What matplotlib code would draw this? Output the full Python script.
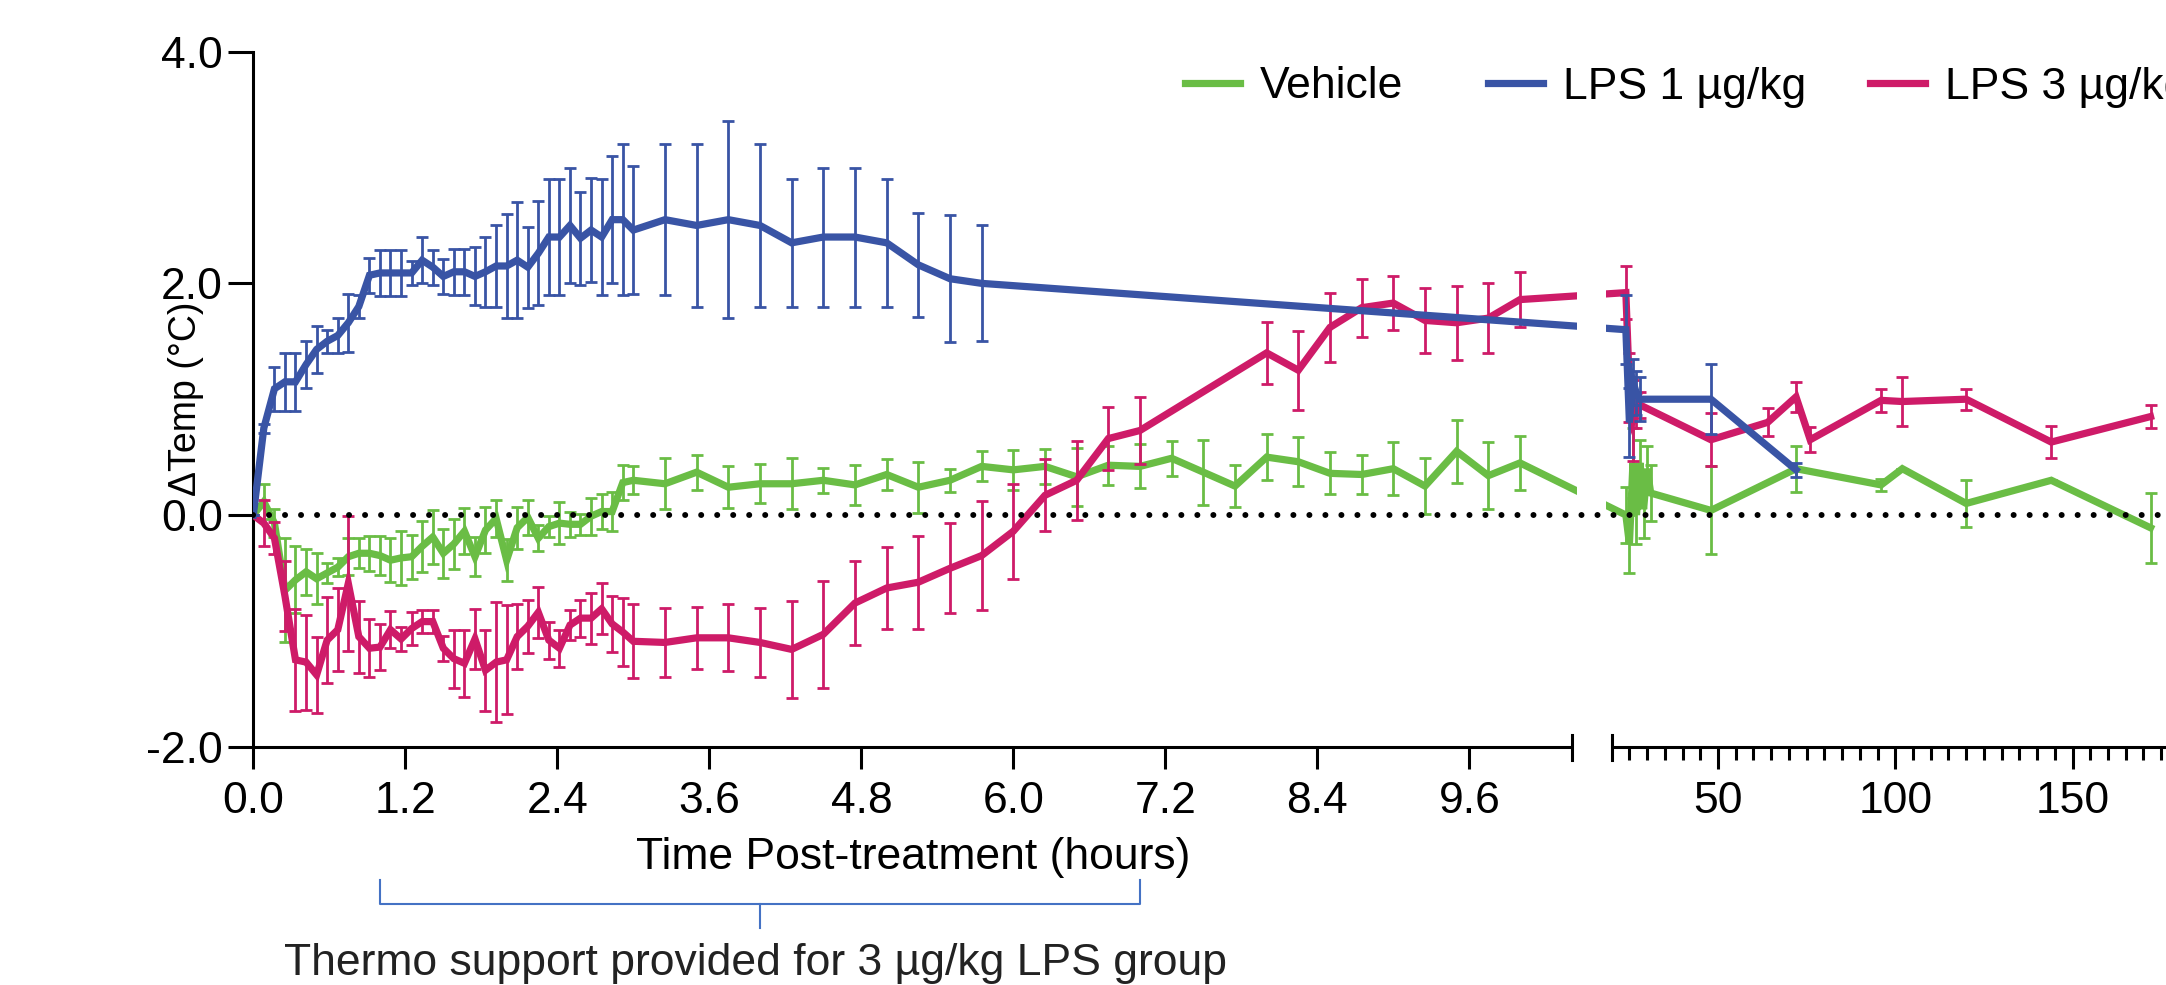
import numpy as np
import matplotlib
matplotlib.use("Agg")
import matplotlib.pyplot as plt
from matplotlib.lines import Line2D
import matplotlib.transforms as mtransforms

plt.rcParams['font.family'] = ['Liberation Sans', 'DejaVu Sans']
plt.rcParams['axes.unicode_minus'] = False

# ---------------- data (hours, delta temp in degC, SEM) ----------------
t_early = [0, 0.083, 0.167, 0.25, 0.333, 0.417, 0.5, 0.583, 0.667, 0.75, 0.833, 0.917,
           1.0, 1.083, 1.167, 1.25, 1.333, 1.417, 1.5, 1.583, 1.667, 1.75, 1.833, 1.917,
           2.0, 2.083, 2.167, 2.25, 2.333, 2.417, 2.5, 2.583, 2.667, 2.75, 2.833, 2.917, 3.0]

vehicle_t = t_early + [3.25, 3.5, 3.75, 4.0, 4.25, 4.5, 4.75, 5.0, 5.25, 5.5, 5.75, 6.0,
                       6.25, 6.5, 6.75, 7.0, 7.25, 7.5, 7.75, 8.0, 8.25, 8.5, 8.75, 9.0,
                       9.25, 9.5, 9.75, 10.0,
                       24, 25, 26, 27, 28, 29, 30, 31, 48, 72, 96, 102, 120, 144, 172]
vehicle_y = [0.0, 0.115, -0.07, -0.65, -0.56, -0.49, -0.55, -0.50, -0.45, -0.36, -0.33, -0.33,
             -0.35, -0.39, -0.37, -0.36, -0.27, -0.19, -0.33, -0.25, -0.14, -0.36, -0.13, -0.03,
             -0.39, -0.11, -0.02, -0.20, -0.10, -0.07, -0.08, -0.08, -0.01, 0.03, 0.03, 0.28, 0.30,
             0.27, 0.37, 0.24, 0.27, 0.27, 0.30, 0.26, 0.35, 0.24, 0.30, 0.42, 0.39,
             0.42, 0.33, 0.43, 0.42, 0.49, 0.37, 0.25, 0.50, 0.46, 0.36, 0.35, 0.40,
             0.25, 0.55, 0.34, 0.45,
             0.00, -0.25, 0.45, 0.00, 0.45, 0.05, 0.40, 0.19, 0.04, 0.40, 0.26, 0.40, 0.10, 0.30, -0.11]
vehicle_e = [0.0, 0.15, 0.12, 0.45, 0.29, 0.20, 0.22, 0.09, 0.08, 0.16, 0.13, 0.15,
             0.17, 0.19, 0.23, 0.19, 0.22, 0.23, 0.21, 0.22, 0.20, 0.17, 0.20, 0.16,
             0.18, 0.18, 0.15, 0.11, 0.09, 0.18, 0.11, 0.09, 0.16, 0.15, 0.17, 0.15, 0.12,
             0.22, 0.15, 0.18, 0.17, 0.22, 0.11, 0.17, 0.13, 0.22, 0.10, 0.13, 0.17,
             0.15, 0.25, 0.17, 0.19, 0.15, 0.28, 0.18, 0.20, 0.21, 0.18, 0.17, 0.23,
             0.24, 0.27, 0.29, 0.23,
             0.24, 0.25, 0.30, 0.25, 0.20, 0.25, 0.20, 0.24, 0.38, 0.20, 0.05, 0.0, 0.20, 0.0, 0.30]

lps1_t = t_early + [3.25, 3.5, 3.75, 4.0, 4.25, 4.5, 4.75, 5.0, 5.25, 5.5, 5.75,
                    24, 25, 26, 27, 28, 48, 72]
lps1_y = [0.0, 0.75, 1.09, 1.15, 1.15, 1.30, 1.43, 1.50, 1.55, 1.66, 1.80, 2.07,
          2.09, 2.09, 2.09, 2.09, 2.20, 2.14, 2.06, 2.10, 2.10, 2.06, 2.10, 2.15,
          2.15, 2.20, 2.14, 2.26, 2.40, 2.40, 2.50, 2.39, 2.46, 2.40, 2.55, 2.55, 2.46,
          2.55, 2.50, 2.55, 2.50, 2.35, 2.40, 2.40, 2.35, 2.16, 2.04, 2.00,
          1.60, 0.80, 1.15, 1.05, 1.00, 1.00, 0.39]
lps1_e = [0.0, 0.04, 0.19, 0.25, 0.25, 0.20, 0.20, 0.10, 0.15, 0.25, 0.10, 0.15,
          0.20, 0.20, 0.20, 0.10, 0.20, 0.15, 0.15, 0.20, 0.20, 0.25, 0.30, 0.35,
          0.45, 0.50, 0.35, 0.45, 0.50, 0.50, 0.50, 0.40, 0.45, 0.50, 0.55, 0.65, 0.55,
          0.65, 0.70, 0.85, 0.70, 0.55, 0.60, 0.60, 0.55, 0.45, 0.55, 0.50,
          0.30, 0.30, 0.20, 0.19, 0.19, 0.30, 0.06]

lps3_t = t_early + [3.25, 3.5, 3.75, 4.0, 4.25, 4.5, 4.75, 5.0, 5.25, 5.5, 5.75, 6.0,
                    6.25, 6.5, 6.75, 7.0, 8.0, 8.25, 8.5, 8.75, 9.0, 9.25, 9.5, 9.75, 10.0,
                    24, 25, 26, 27, 28, 48, 64, 72, 76, 96, 102, 120, 144, 172]
lps3_y = [0.0, -0.07, -0.20, -0.70, -1.25, -1.27, -1.38, -1.08, -0.99, -0.59, -1.05, -1.15,
          -1.14, -0.99, -1.07, -0.98, -0.92, -0.92, -1.15, -1.24, -1.28, -1.07, -1.34, -1.27,
          -1.25, -1.05, -0.96, -0.84, -1.08, -1.15, -0.95, -0.89, -0.89, -0.81, -0.94, -1.01, -1.09,
          -1.10, -1.06, -1.06, -1.10, -1.16, -1.03, -0.76, -0.63, -0.58, -0.46, -0.35, -0.14,
          0.17, 0.30, 0.66, 0.73, 1.40, 1.25, 1.62, 1.79, 1.83, 1.68, 1.66, 1.70, 1.86,
          1.92, 1.10, 0.82, 0.90, 0.95, 0.65, 0.80, 1.02, 0.65, 0.99, 0.98, 1.00, 0.63, 0.85]
lps3_e = [0.0, 0.20, 0.14, 0.30, 0.44, 0.41, 0.33, 0.37, 0.36, 0.58, 0.31, 0.25,
          0.20, 0.16, 0.10, 0.14, 0.10, 0.10, 0.11, 0.25, 0.29, 0.26, 0.35, 0.52,
          0.47, 0.28, 0.23, 0.22, 0.16, 0.16, 0.13, 0.16, 0.22, 0.22, 0.24, 0.29, 0.32,
          0.30, 0.27, 0.29, 0.30, 0.42, 0.46, 0.36, 0.35, 0.40, 0.39, 0.47, 0.41,
          0.31, 0.34, 0.27, 0.29, 0.27, 0.34, 0.30, 0.25, 0.23, 0.28, 0.32, 0.30, 0.24,
          0.23, 0.30, 0.35, 0.15, 0.11, 0.23, 0.12, 0.13, 0.11, 0.10, 0.21, 0.09, 0.14, 0.10]

series_names = ['Vehicle', 'LPS 1 µg/kg', 'LPS 3 µg/kg']
series_colors = ['#6abd45', '#3954a5', '#ce1b68']

left_ticks = [0.0, 1.2, 2.4, 3.6, 4.8, 6.0, 7.2, 8.4, 9.6]
right_ticks = [50, 100, 150]
right_minor = [25, 30, 35, 40, 45, 55, 60, 65, 70, 75, 80, 85, 90, 95, 105, 110, 115,
               120, 125, 130, 135, 140, 145, 155, 160, 165, 170, 175]
y_ticks = [-2.0, 0.0, 2.0, 4.0]

# ---------------- geometry ----------------
W, H, DPI = 2166, 985, 100
X0_PX, PX_PER_H = 253.3, 126.67
LEFT_END, RIGHT_START, T_MAX = 10.408, 20.0, 180.0
GAP_PX = 40.0
U_R0 = LEFT_END + GAP_PX / PX_PER_H
K = 3.545 / PX_PER_H


def fwd(t):
    t = np.asarray(t, dtype=float)
    mid = LEFT_END + (t - LEFT_END) * (U_R0 - LEFT_END) / (RIGHT_START - LEFT_END)
    right = U_R0 + (t - RIGHT_START) * K
    return np.where(t <= LEFT_END, t, np.where(t >= RIGHT_START, right, mid))


def inv(u):
    u = np.asarray(u, dtype=float)
    mid = LEFT_END + (u - LEFT_END) * (RIGHT_START - LEFT_END) / (U_R0 - LEFT_END)
    right = RIGHT_START + (u - U_R0) / K
    return np.where(u <= LEFT_END, u, np.where(u >= U_R0, right, mid))


fig = plt.figure(figsize=(W / DPI, H / DPI), dpi=DPI)
ax_w_px = float(fwd(T_MAX)) * PX_PER_H
ax = fig.add_axes([X0_PX / W, 1 - 746.7 / H, ax_w_px / W, 695.0 / H])
ax.set_xscale('function', functions=(fwd, inv))
ax.set_xlim(0, T_MAX)
ax.set_ylim(-2, 4)

LW = 5.2
for (tt, yy, ee), c, z in zip([(vehicle_t, vehicle_y, vehicle_e),
                               (lps3_t, lps3_y, lps3_e),
                               (lps1_t, lps1_y, lps1_e)],
                              [series_colors[0], series_colors[2], series_colors[1]],
                              [2, 3, 4]):
    ax.errorbar(tt, yy, yerr=ee, fmt='none', ecolor=c, elinewidth=2.0,
                capsize=4.5, capthick=2.0, zorder=z)
    ax.plot(tt, yy, color=c, lw=LW, zorder=z + 0.5, solid_joinstyle='miter')

# mask data lines inside the axis break
g0, g1 = inv(np.array([(1577 - X0_PX) / PX_PER_H, (1606 - X0_PX) / PX_PER_H]))
ax.axvspan(g0, g1, color='white', lw=0, zorder=5)

# dotted zero line
ax.axhline(0, color='black', lw=4.3, linestyle=(0, (0.01, 2.67)),
           dash_capstyle='round', zorder=6)

# spines
for s in ['top', 'right', 'bottom']:
    ax.spines[s].set_visible(False)
ax.spines['left'].set_linewidth(2.2)

trans = mtransforms.blended_transform_factory(ax.transData, ax.transAxes)
ax.plot([0, LEFT_END], [0, 0], transform=trans, color='black', lw=2.2,
        clip_on=False, solid_capstyle='butt', zorder=7)
ax.plot([RIGHT_START, T_MAX], [0, 0], transform=trans, color='black', lw=2.2,
        clip_on=False, solid_capstyle='butt', zorder=7)
for xb in [LEFT_END, RIGHT_START]:
    ax.plot([xb, xb], [-0.019, 0.017], transform=trans, color='black', lw=2.2,
            clip_on=False, zorder=7)

ax.set_xticks(left_ticks + right_ticks)
ax.set_xticklabels([f'{v:.1f}' for v in left_ticks] + [str(v) for v in right_ticks])
ax.set_xticks(right_minor, minor=True)
ax.tick_params(axis='x', which='major', length=16, width=2.2, pad=9, labelsize=32)
ax.tick_params(axis='x', which='minor', length=9.4, width=2.2)
ax.set_yticks(y_ticks)
ax.set_yticklabels([f'{v:.1f}' for v in y_ticks])
ax.tick_params(axis='y', which='major', length=18, width=2.2, pad=4, labelsize=32)
ax.tick_params(axis='y', which='minor', left=False)

# labels
fig.text(186 / W, 1 - 399 / H, 'ΔTemp (°C)', rotation=90, ha='center', va='center', fontsize=27)
fig.text(913 / W, 1 - 869 / H, 'Time Post-treatment (hours)', ha='center', va='baseline', fontsize=32)

# bracket annotation
tb = mtransforms.blended_transform_factory(ax.transData, fig.transFigure)
yb_top, yb_mid, yb_bot = 1 - 880 / H, 1 - 904 / H, 1 - 928 / H
ax.plot([1.0, 1.0, 7.0, 7.0], [yb_top, yb_mid, yb_mid, yb_top], transform=tb,
        color='#4472c4', lw=1.5, clip_on=False)
ax.plot([4.0, 4.0], [yb_mid, yb_bot], transform=tb, color='#4472c4', lw=1.5, clip_on=False)
fig.text(756 / W, 1 - 975 / H, 'Thermo support provided for 3 µg/kg LPS group',
         ha='center', va='baseline', fontsize=32, color='#222222')

# legend (three entries in a row, last one runs off the figure edge)
for name, c, xpx in zip(series_names, series_colors, [1185, 1488, 1870]):
    h = Line2D([], [], color=c, lw=LW, marker='|', markersize=5, markeredgewidth=1.5)
    fig.legend(handles=[h], labels=[name], loc='center left',
               bbox_to_anchor=(xpx / W, 1 - 87 / H), frameon=False, fontsize=32,
               handlelength=1.24, handletextpad=0.45, borderpad=0, borderaxespad=0)

fig.savefig('out.png', dpi=DPI)
